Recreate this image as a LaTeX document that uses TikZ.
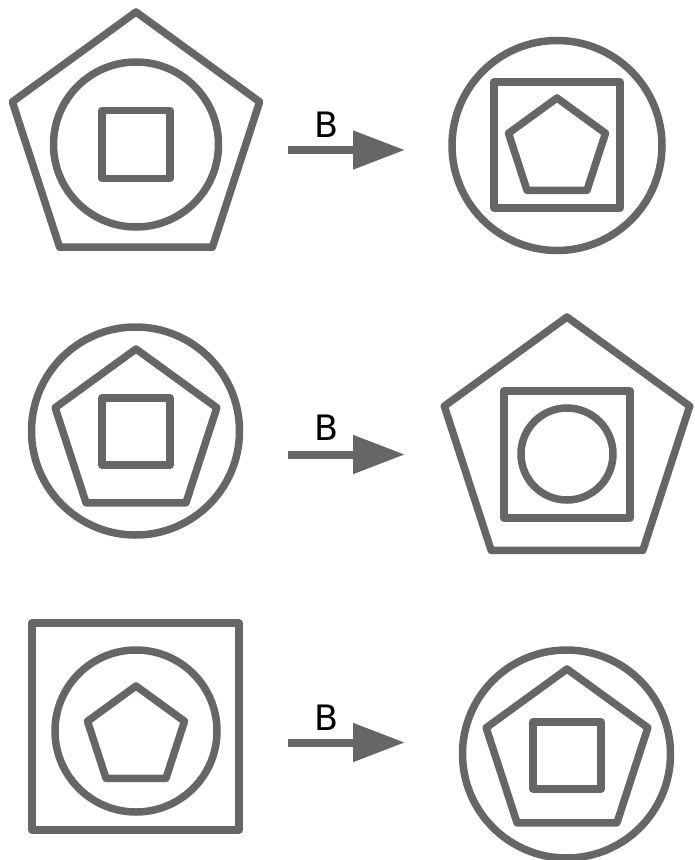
\documentclass[tikz,border=0pt]{standalone}
\usepackage{fontspec}
\setmainfont{DejaVu Sans}
\usetikzlibrary{arrows.meta}
\definecolor{fg}{HTML}{666666}
\tikzset{
  figline/.style={draw=fg, line width=7.5pt, line join=round},
  bigarrow/.style={draw=fg, line width=8pt, -{Triangle[length=52pt,width=37pt,fill=fg]}},
  blabel/.style={text=black, font=\fontsize{35}{40}\selectfont, inner sep=0pt}
}
\newcommand\mypent[3]{\draw[figline, shift={(#1,#2)}] (-90:#3) -- (-18:#3) -- (54:#3) -- (126:#3) -- (198:#3) -- cycle;}
\begin{document}
\begin{tikzpicture}[x=1pt,y=-1pt]
\useasboundingbox (0,0) rectangle (695,860);
% row 1 left
\mypent{136}{142}{130}
\draw[figline] (136,144.5) circle[radius=82.5];
\draw[figline] (102,110.5) rectangle (170,178.5);
% row 1 right
\draw[figline] (557,145.5) circle[radius=105];
\draw[figline] (494,82) rectangle (620,208);
\mypent{557}{149}{51}
% row 2 left
\draw[figline] (135.5,431) circle[radius=104];
\mypent{136}{434}{85}
\draw[figline] (102,398) rectangle (170,465);
% row 2 right
\mypent{567}{446}{129}
\draw[figline] (504,391) rectangle (630,518);
\draw[figline] (567,454) circle[radius=46];
% row 3 left
\draw[figline] (32,623) rectangle (239,830);
\draw[figline] (136,731) circle[radius=81];
\mypent{136}{737}{51}
% row 3 right
\draw[figline] (566.5,754) circle[radius=104];
\mypent{567}{754}{85}
\draw[figline] (533,722) rectangle (601,789);
% arrows
\coordinate (s1) at (288,150);   \coordinate (e1) at (405,150);
\coordinate (s2) at (288,454.5); \coordinate (e2) at (405,454.5);
\coordinate (s3) at (288,742.5); \coordinate (e3) at (405,742.5);
\draw[bigarrow] (s1) -- (e1);
\draw[bigarrow] (s2) -- (e2);
\draw[bigarrow] (s3) -- (e3);
\node[blabel] (b1) at (327,125) {B};
\node[blabel] (b2) at (327,428) {B};
\node[blabel] (b3) at (327,717.5) {B};
\end{tikzpicture}
\end{document}
